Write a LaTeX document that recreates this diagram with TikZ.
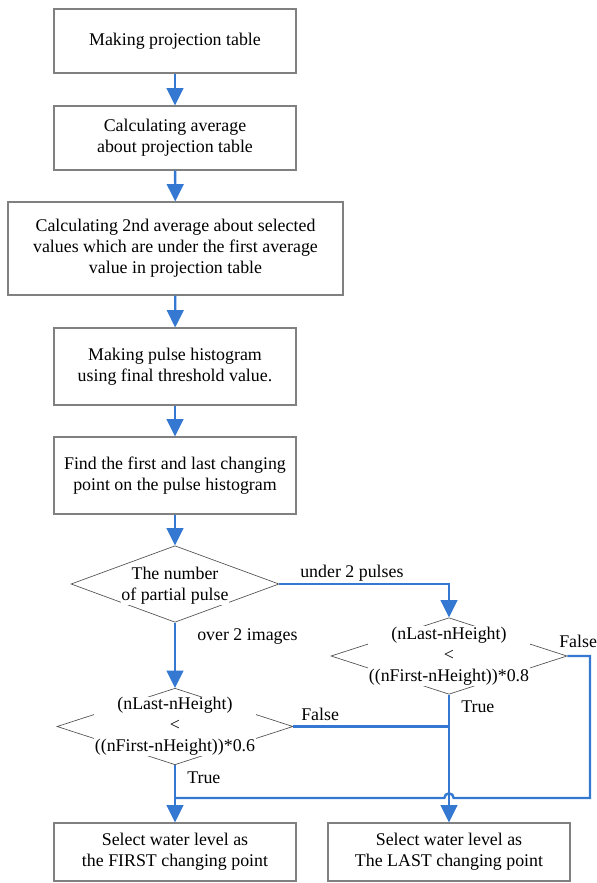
\documentclass[tikz,border=0pt]{standalone}
\usepackage{fontspec}
\setmainfont{LiberationSerif}[Extension=.ttf,UprightFont=*-Regular,BoldFont=*-Bold]
\usetikzlibrary{arrows.meta,calc,shapes.geometric}
\definecolor{flowblue}{RGB}{52,120,210}
\definecolor{boxgray}{RGB}{128,128,128}
\definecolor{diagray}{RGB}{80,80,80}

\begin{document}
\begin{tikzpicture}[x=0.75pt,y=-0.75pt,
        every node/.style={font=\fontsize{13.4}{15.8}\selectfont},
        stepbox/.style={draw=boxgray,line width=0.8pt,align=center,inner sep=2pt,minimum width=181.5pt},
        test/.style={shape=diamond,draw=diagray,line width=0.5pt,inner sep=0pt,minimum width=177pt,minimum height=57.4pt},
        testtext/.style={fill=white,align=center,inner sep=0.5pt},
        edgetext/.style={anchor=base west,inner sep=0pt},
        flow/.style={draw=flowblue,line width=1.8pt},
        flowarrow/.style={flow,-{Triangle[length=13pt,width=12.5pt]}}]
            \useasboundingbox (0,0) rectangle (597,883);
            \node[stepbox,minimum height=48pt] (A) at (175,41) {Making projection table};
            \node[stepbox,minimum height=48pt] (B) at (175,138) {Calculating average\\about projection table};
            \node[stepbox,minimum width=251.25pt,minimum height=69.75pt] (C) at (175.5,248.5) {Calculating 2nd average about selected\\values which are under the first average\\value in projection table};
            \node[stepbox,minimum height=57.75pt] (D) at (175,366.5) {Making pulse histogram\\using final threshold value.};
            \node[stepbox,minimum height=57.75pt] (E) at (175,475.5) {Find the first and last changing\\point on the pulse histogram};
            \node[test,minimum width=156pt] (F) at (175,584) {};
            \node[testtext] (Ft) at (175,586) {The number\\of partial pulse};
            \node[test] (G) at (449,656) {};
            \node[testtext] (Gt) at (449,656) {(nLast-nHeight)\\<\\((nFirst-nHeight))*0.8};
            \node[test] (H) at (175,726.5) {};
            \node[testtext] (Ht) at (175,726.5) {(nLast-nHeight)\\<\\((nFirst-nHeight))*0.6};
            \node[stepbox,minimum height=43.5pt] (I) at (175,852) {Select water level as\\the FIRST changing point};
            \node[stepbox,minimum height=43.5pt] (J) at (449,852) {Select water level as\\The LAST changing point};
            \node[edgetext] (under) at (300,577) {under 2 pulses};
            \node[edgetext] (over) at (197,640) {over 2 images};
            \node[edgetext] (Gfalse) at (559,647) {False};
            \node[edgetext] (Gtrue) at (461,712) {True};
            \node[edgetext] (Hfalse) at (301,720) {False};
            \node[edgetext] (Htrue) at (187,783) {True};
            \coordinate (R) at (590,798);
            \draw[flowarrow] (A) -- (B);
            \draw[flowarrow] (B) -- (C);
            \draw[flowarrow] (C) -- (D);
            \draw[flowarrow] (D) -- (E);
            \draw[flowarrow] (E) -- (F);
            \draw[flowarrow] (F.east) -| (G.north);
            \draw[flowarrow] (F.south) -- (H.north);
            \draw[flowarrow] (H.south) -- (I.north);
            \draw[flowarrow] (G.south) -- (J.north);
            \draw[flow] (H.east) -- (H.east -| G.south);
            \draw[flow] (G.east) -| (R) -- ($(G.south |- R)+(3.5pt,0)$) arc[start angle=0,end angle=180,radius=3.5pt] -- (H.south |- R);
        \end{tikzpicture}
\end{document}
